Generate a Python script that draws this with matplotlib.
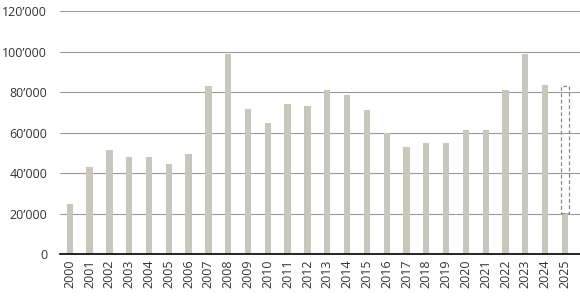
import matplotlib.pyplot as plt
import matplotlib.ticker as mticker

years = [str(y) for y in range(2000, 2026)]
values = [24800, 43200, 51300, 47700, 47700, 44600, 49200, 83200, 98900, 71800,
          64700, 74300, 73100, 81000, 78700, 71300, 59900, 53100, 54800, 55000,
          61200, 61400, 81200, 98800, 83500, 20400]
# 2025 forecast box (dashed outline)
forecast_low = 20400
forecast_high = 83000

plt.rcParams['font.family'] = ['Open Sans', 'DejaVu Sans']

fig = plt.figure(figsize=(5.8, 2.99), dpi=100)
ax = fig.add_axes([0.103, 0.1505, 0.897, 0.8125])

x = list(range(len(years)))
ax.bar(x, values, width=0.32, color="#c9c7bb", zorder=3)
ax.bar([x[-1]], [forecast_high - forecast_low], bottom=[forecast_low], width=0.36,
       fill=False, edgecolor="#8a8a8a", linestyle=(0, (3, 2)), linewidth=0.9, zorder=4)

ax.set_xlim(-0.505, 25.76)
ax.set_ylim(0, 120000)
ax.set_yticks(range(0, 120001, 20000))
ax.yaxis.set_major_formatter(mticker.FuncFormatter(
    lambda v, p: "0" if v == 0 else f"{int(v):,}".replace(",", "\u2019")))
ax.set_xticks(x)
ax.set_xticklabels(years, rotation=90)

ax.grid(axis="y", color="#9a9a9a", linewidth=0.8, zorder=0)
for s in ["top", "right", "left"]:
    ax.spines[s].set_visible(False)
ax.spines["bottom"].set_color("black")
ax.spines["bottom"].set_linewidth(1.2)
ax.spines["bottom"].set_zorder(5)
ax.tick_params(axis="both", length=0, labelsize=9, labelcolor="#333333")
ax.tick_params(axis="y", pad=9)
ax.tick_params(axis="x", pad=4)

fig.savefig("out.png", dpi=100)
